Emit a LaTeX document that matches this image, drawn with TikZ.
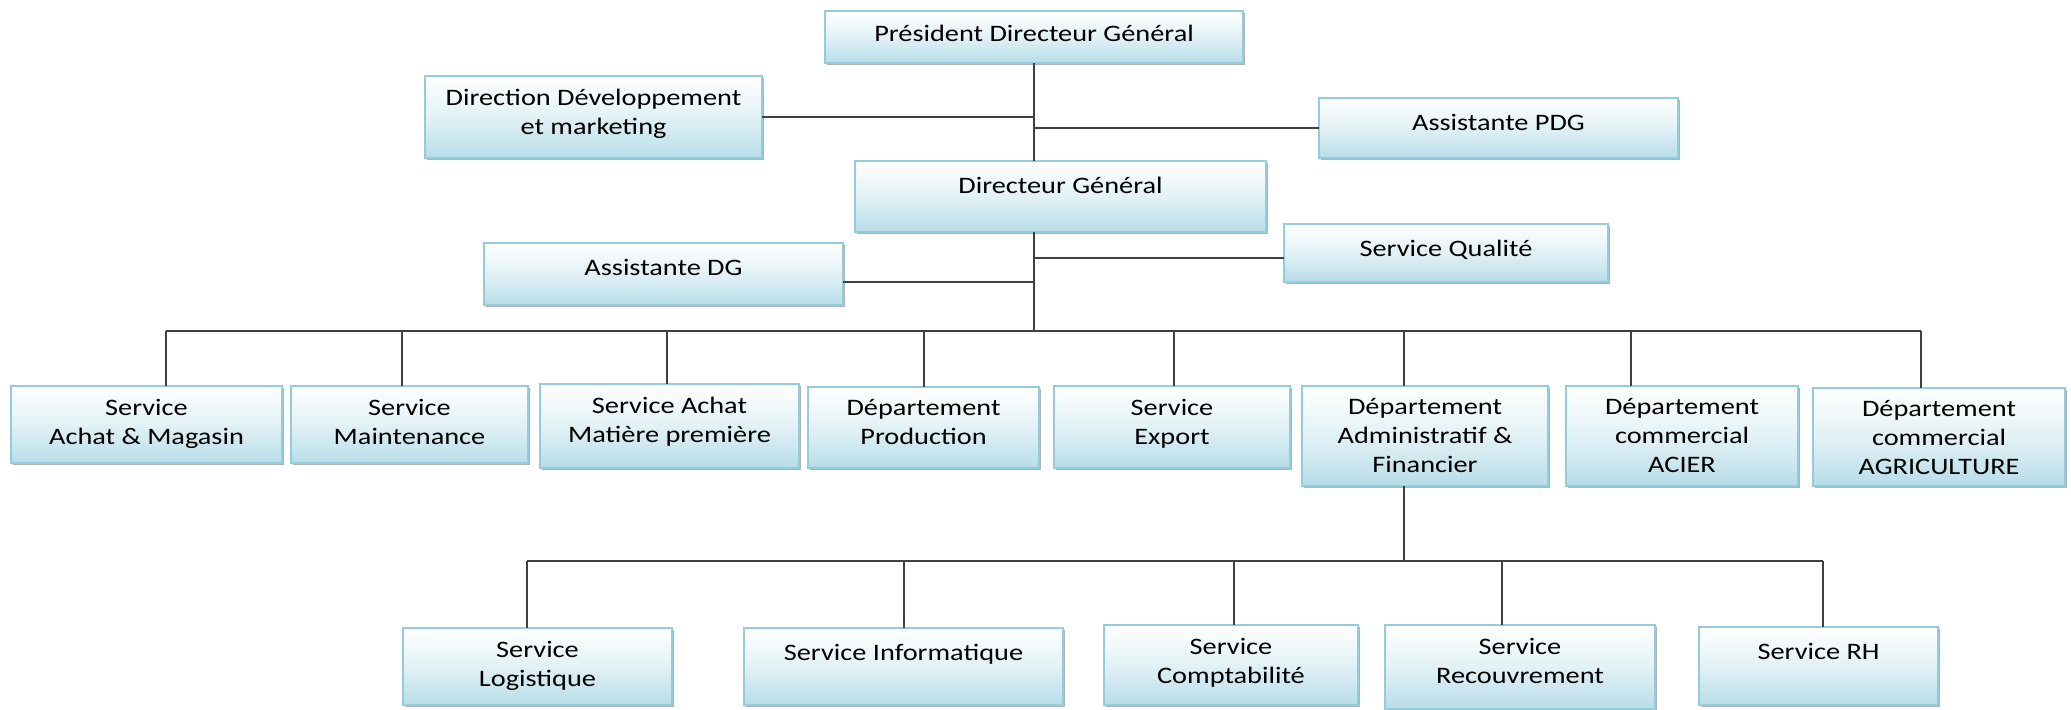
\documentclass[tikz,border=0pt]{standalone}
\usepackage{fontspec}
\setmainfont{Carlito}[FakeStretch=1.2]
\usetikzlibrary{shadows}

\definecolor{boxblue}{RGB}{183,221,232}
\definecolor{boxedge}{RGB}{147,205,221}
\definecolor{linkgray}{RGB}{64,64,64}
\newcommand{\orgfont}{\fontsize{11.8pt}{14.5pt}\selectfont}

\tikzset{
  unit/.style={draw=boxedge,line width=0.6pt,top color=white,bottom color=boxblue,middle color=boxblue!40!white,
    inner sep=0pt,outer sep=0pt,drop shadow={shadow xshift=1pt,shadow yshift=-1.2pt,opacity=0.3,fill=black}},
  title/.style={anchor=north,yshift=-6.2pt,inner sep=0pt,align=center,font=\orgfont,text=black,
    execute at begin node={\rule{0pt}{0.85em}}},
  link/.style={draw=linkgray,line width=1.1pt}
}

\begin{document}
\begin{tikzpicture}[x=0.5pt,y=-0.5pt]
\useasboundingbox (0,0) rectangle (2071,709);

% direction
\node[unit,minimum width=209pt,minimum height=26pt,label={[title,yshift=1.2pt]north:Président Directeur Général}] (pdg) at (1034,37) {};
\node[unit,minimum width=168.5pt,minimum height=41pt,label={[title]north:{Direction Développement\\et marketing}}] (ddm) at (593.5,117) {};
\node[unit,minimum width=179.5pt,minimum height=30pt,label={[title]north:Assistante PDG}] (apdg) at (1498.5,128) {};
\node[unit,minimum width=205.5pt,minimum height=35.5pt,label={[title]north:Directeur Général}] (dg) at (1060.5,196.5) {};
\node[unit,minimum width=179.5pt,minimum height=31pt,label={[title]north:Assistante DG}] (adg) at (663.5,274) {};
\node[unit,minimum width=162pt,minimum height=29pt,label={[title]north:Service Qualité}] (sq) at (1446,253) {};

% services et departements
\node[unit,minimum width=135.5pt,minimum height=38.5pt,label={[title]north:{Service\\Achat \& Magasin}}] (sam) at (146.5,424.5) {};
\node[unit,minimum width=118.5pt,minimum height=38.5pt,label={[title]north:{Service\\Maintenance}}] (smain) at (409.5,424.5) {};
\node[unit,minimum width=129.5pt,minimum height=42pt,label={[title]north:{Service Achat\\Matière première}}] (smp) at (669.5,426) {};
\node[unit,minimum width=115.5pt,minimum height=40.5pt,label={[title]north:{Département\\Production}}] (dprod) at (923.5,427.5) {};
\node[unit,minimum width=118pt,minimum height=41pt,label={[title]north:{Service\\Export}}] (sexp) at (1172,427) {};
\node[unit,minimum width=123pt,minimum height=50pt,label={[title]north:{Département\\Administratif \&\\Financier}}] (daf) at (1425,436) {};
\node[unit,minimum width=116pt,minimum height=50pt,label={[title]north:{Département\\commercial\\ACIER}}] (dacier) at (1682,436) {};
\node[unit,minimum width=126pt,minimum height=49pt,label={[title]north:{Département\\commercial\\AGRICULTURE}}] (dagri) at (1939,437) {};

% services du departement administratif
\node[unit,minimum width=134.5pt,minimum height=38.5pt,label={[title]north:{Service\\Logistique}}] (slog) at (537.5,666.5) {};
\node[unit,minimum width=159.5pt,minimum height=38.5pt,label={[title]north:Service Informatique}] (sinf) at (903.5,666.5) {};
\node[unit,minimum width=127pt,minimum height=40pt,label={[title]north:{Service\\Comptabilité}}] (scpt) at (1231,665) {};
\node[unit,minimum width=135pt,minimum height=42pt,label={[title]north:{Service\\Recouvrement}}] (srec) at (1520,667) {};
\node[unit,minimum width=119.5pt,minimum height=39pt,label={[title]north:Service RH}] (srh) at (1818.5,666) {};

% liaisons du haut
\coordinate (tq) at (1034,258);
\coordinate (tadg) at (1034,282);
\coordinate (bus) at (1034,331);
\draw[link] (pdg.south) -- (pdg.south |- dg.north);
\draw[link] (ddm.east) -- (ddm.east -| pdg.south);
\draw[link] (apdg.west) -- (apdg.west -| pdg.south);
\draw[link] (pdg.south |- dg.south) -- (bus);
\draw[link] (tq) -- (tq -| sq.west);
\draw[link] (tadg) -- (tadg -| adg.east);

% barre des services
\coordinate (bl) at (166,331);
\coordinate (br) at (1921,331);
\draw[link] (bl) -- (br);
\foreach \x/\n in {166/sam,402/smain,667/smp,924/dprod,1174/sexp,1404/daf,1631/dacier,1921/dagri}{
  \coordinate (d\n) at (\x,331);
  \draw[link] (d\n) -- (d\n |- \n.north);
}

% barre du departement administratif
\coordinate (cl) at (527,561);
\coordinate (cr) at (1823,561);
\draw[link] (cl) -- (cr);
\draw[link] (ddaf |- daf.south) -- (ddaf |- cl);
\foreach \x/\n in {527/slog,904/sinf,1234/scpt,1502/srec,1823/srh}{
  \coordinate (e\n) at (\x,561);
  \draw[link] (e\n) -- (e\n |- \n.north);
}
\end{tikzpicture}
\end{document}
